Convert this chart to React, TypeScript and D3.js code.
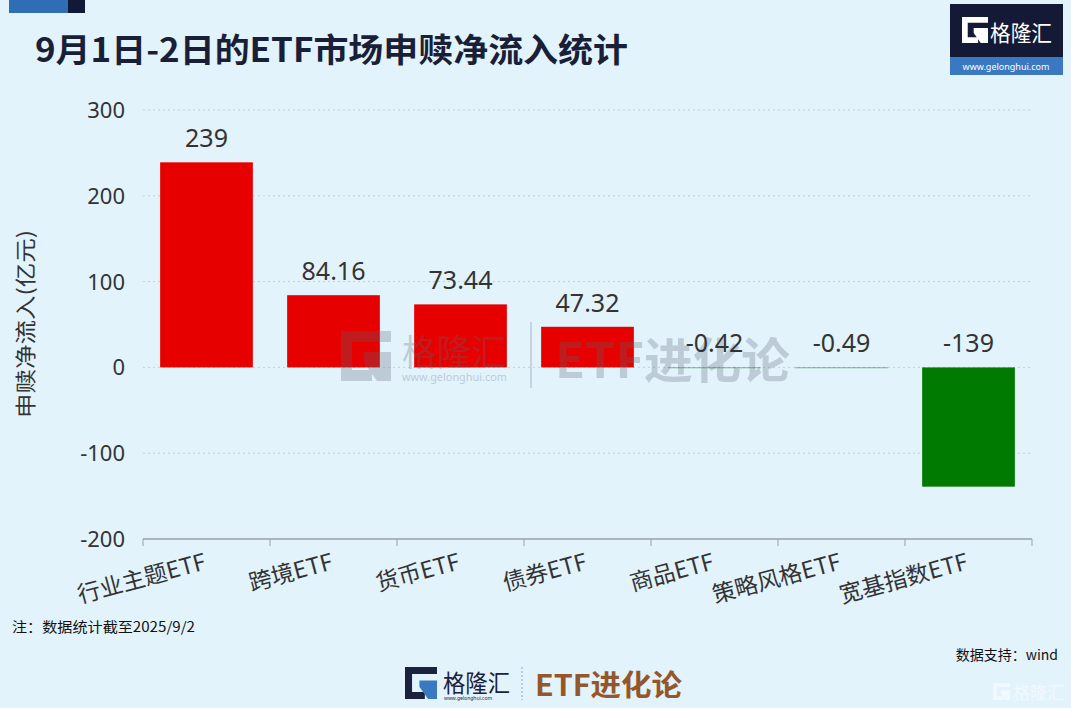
import React from "react";
import * as d3 from "d3";

const categories = ["行业主题ETF", "跨境ETF", "货币ETF", "债券ETF", "商品ETF", "策略风格ETF", "宽基指数ETF"];
const values = [239, 84.16, 73.44, 47.32, -0.42, -0.49, -139];
const valueLabels = ["239", "84.16", "73.44", "47.32", "-0.42", "-0.49", "-139"];
const yTicks = [300, 200, 100, 0, -100, -200];

const W = 1071;
const H = 708;
const BG = "#E2F3FC";
const NUM_FONT = "'Noto Sans', 'Open Sans', sans-serif";
const CJK = "'Noto Sans CJK SC', sans-serif";

function GIcon({ x, y, s, color, accent }: { x: number; y: number; s: number; color: string; accent: string }) {
  const t = s * 0.22;
  const p = `M${x + s},${y} L${x},${y} L${x},${y + s} L${x + s * 0.62},${y + s} L${x + s * 0.62},${y + s - t} L${x + t},${y + s - t} L${x + t},${y + t} L${x + s},${y + t} Z`;
  const p2 = `M${x + s * 0.45},${y + s * 0.42} L${x + s},${y + s * 0.42} L${x + s},${y + s} L${x + s * 0.72},${y + s} L${x + s * 0.45},${y + s * 0.62} Z`;
  return (
    <g>
      <path d={p} fill={color} />
      <path d={p2} fill={accent} />
    </g>
  );
}

export default function App() {
  const left = 143;
  const right = 1032;
  const y = d3.scaleLinear().domain([-200, 300]).range([539, 110]);
  const x = d3.scaleBand<string>().domain(categories).range([left, right]).paddingInner(0.27).paddingOuter(0.135);
  const band = (right - left) / categories.length;

  return (
    <svg width={W} height={H} style={{ position: "absolute", left: 0, top: 0 }}>
      <rect x={0} y={0} width={W} height={H} fill={BG} />
      {/* top-left stripe */}
      <rect x={9} y={0} width={59} height={13} fill="#2F6DB5" />
      <rect x={68} y={0} width={17} height={13} fill="#111838" />
      {/* title */}
      <text x={35} y={62} fontFamily={CJK} fontWeight={700} fontSize={33} fill="#1A1F38" textLength={593} lengthAdjust="spacingAndGlyphs">
        9月1日-2日的ETF市场申赎净流入统计
      </text>
      {/* top-right logo */}
      <g>
        <rect x={950} y={4} width={113} height={71} fill="#141A35" />
        <rect x={950} y={57} width={113} height={18} fill="#3A78C2" />
        <GIcon x={962} y={17} s={26} color="#FFFFFF" accent="#FFFFFF" />
        <text x={990} y={41} fontFamily={CJK} fontSize={22} fill="#FFFFFF" textLength={62} lengthAdjust="spacingAndGlyphs">格隆汇</text>
        <text x={1006} y={70} fontFamily={NUM_FONT} fontSize={9} fill="#FFFFFF" textAnchor="middle">www.gelonghui.com</text>
      </g>

      {/* gridlines */}
      {yTicks.filter((t) => t !== -200).map((t) => (
        <line key={t} x1={left} x2={right} y1={y(t)} y2={y(t)} stroke="#C9CED6" strokeWidth={1} strokeDasharray="2,3" />
      ))}

      {/* bars */}
      {categories.map((c, i) => {
        const v = values[i];
        const y0 = y(0);
        const yv = y(v);
        const top = Math.min(y0, yv);
        const h = Math.max(Math.abs(yv - y0), 0.8);
        return (
          <rect key={c} x={x(c)} y={top} width={x.bandwidth()} height={h} fill={v >= 0 ? "#E60000" : "#007A00"} opacity={Math.abs(yv - y0) < 1 ? 0.6 : 1} />
        );
      })}

      {/* watermark (over bars) */}
      <g opacity={0.28}>
        <GIcon x={341} y={331} s={50} color="#5E6575" accent="#5E6575" />
        <text x={402} y={366} fontFamily={CJK} fontSize={36} fill="#5E6575" textLength={104} lengthAdjust="spacingAndGlyphs">格隆汇</text>
        <text x={402} y={381} fontFamily={NUM_FONT} fontSize={11} fill="#5E6575" textLength={105} lengthAdjust="spacingAndGlyphs">www.gelonghui.com</text>
        <line x1={531} x2={531} y1={322} y2={388} stroke="#5E6575" strokeWidth={1.5} />
        <text x={555} y={378} fontFamily={CJK} fontWeight={700} fontSize={48} fill="#5E6575" textLength={235} lengthAdjust="spacingAndGlyphs">ETF进化论</text>
      </g>

      {/* value labels */}
      {categories.map((c, i) => {
        const v = values[i];
        const ly = v >= 0 ? y(v) - 15 : y(0) - 15;
        return (
          <text key={c} x={(x(c) as number) + x.bandwidth() / 2} y={ly} textAnchor="middle" fontFamily={NUM_FONT} fontSize={25} fill="#333333">
            {valueLabels[i]}
          </text>
        );
      })}

      {/* y axis ticks */}
      {yTicks.map((t) => (
        <text key={t} x={125} y={y(t) + 8} textAnchor="end" fontFamily={NUM_FONT} fontSize={22} fill="#333333">
          {t}
        </text>
      ))}
      <text transform={`translate(33,${324}) rotate(-90)`} textAnchor="middle" fontFamily={CJK} fontSize={21} fill="#333333" textLength={188} lengthAdjust="spacingAndGlyphs">
        申赎净流入(亿元)
      </text>

      {/* x axis */}
      <line x1={left} x2={right} y1={539} y2={539} stroke="#9AA0A6" strokeWidth={1.5} />
      {d3.range(categories.length + 1).map((i) => (
        <line key={i} x1={left + i * band} x2={left + i * band} y1={539} y2={546} stroke="#9AA0A6" strokeWidth={1} />
      ))}
      {categories.map((c) => (
        <text
          key={c}
          transform={`translate(${(x(c) as number) + x.bandwidth() / 2 + 1},${569}) rotate(-15)`}
          textAnchor="end"
          fontFamily={CJK}
          fontSize={23}
          fill="#333333"
        >
          {c}
        </text>
      ))}

      {/* footer */}
      <text x={12} y={632} fontFamily={CJK} fontSize={14} fill="#111111" textLength={183} lengthAdjust="spacingAndGlyphs">注：数据统计截至2025/9/2</text>
      <text x={1058} y={660} textAnchor="end" fontFamily={CJK} fontSize={14} fill="#111111">数据支持：wind</text>

      {/* bottom logo */}
      <g>
        <GIcon x={405} y={667} s={32} color="#1B2240" accent="#3A78C2" />
        <text x={443} y={692} fontFamily={CJK} fontSize={24} fill="#1B2240" textLength={67} lengthAdjust="spacingAndGlyphs">格隆汇</text>
        <text x={444} y={700} fontFamily={NUM_FONT} fontSize={5} fill="#1B2240">www.gelonghui.com</text>
        <line x1={522} x2={522} y1={667} y2={700} stroke="#8FA3C8" strokeWidth={1} strokeDasharray="2,2" />
        <text x={535} y={696} fontFamily={CJK} fontWeight={700} fontSize={29} fill="#93572B" textLength={147} lengthAdjust="spacingAndGlyphs">ETF进化论</text>
      </g>
      {/* bottom-right faint watermark */}
      <g opacity={0.5}>
        <GIcon x={993} y={683} s={17} color="#FFFFFF" accent="#FFFFFF" />
        <text x={1013} y={699} fontFamily={CJK} fontSize={17} fill="#FFFFFF">格隆汇</text>
      </g>
    </svg>
  );
}
